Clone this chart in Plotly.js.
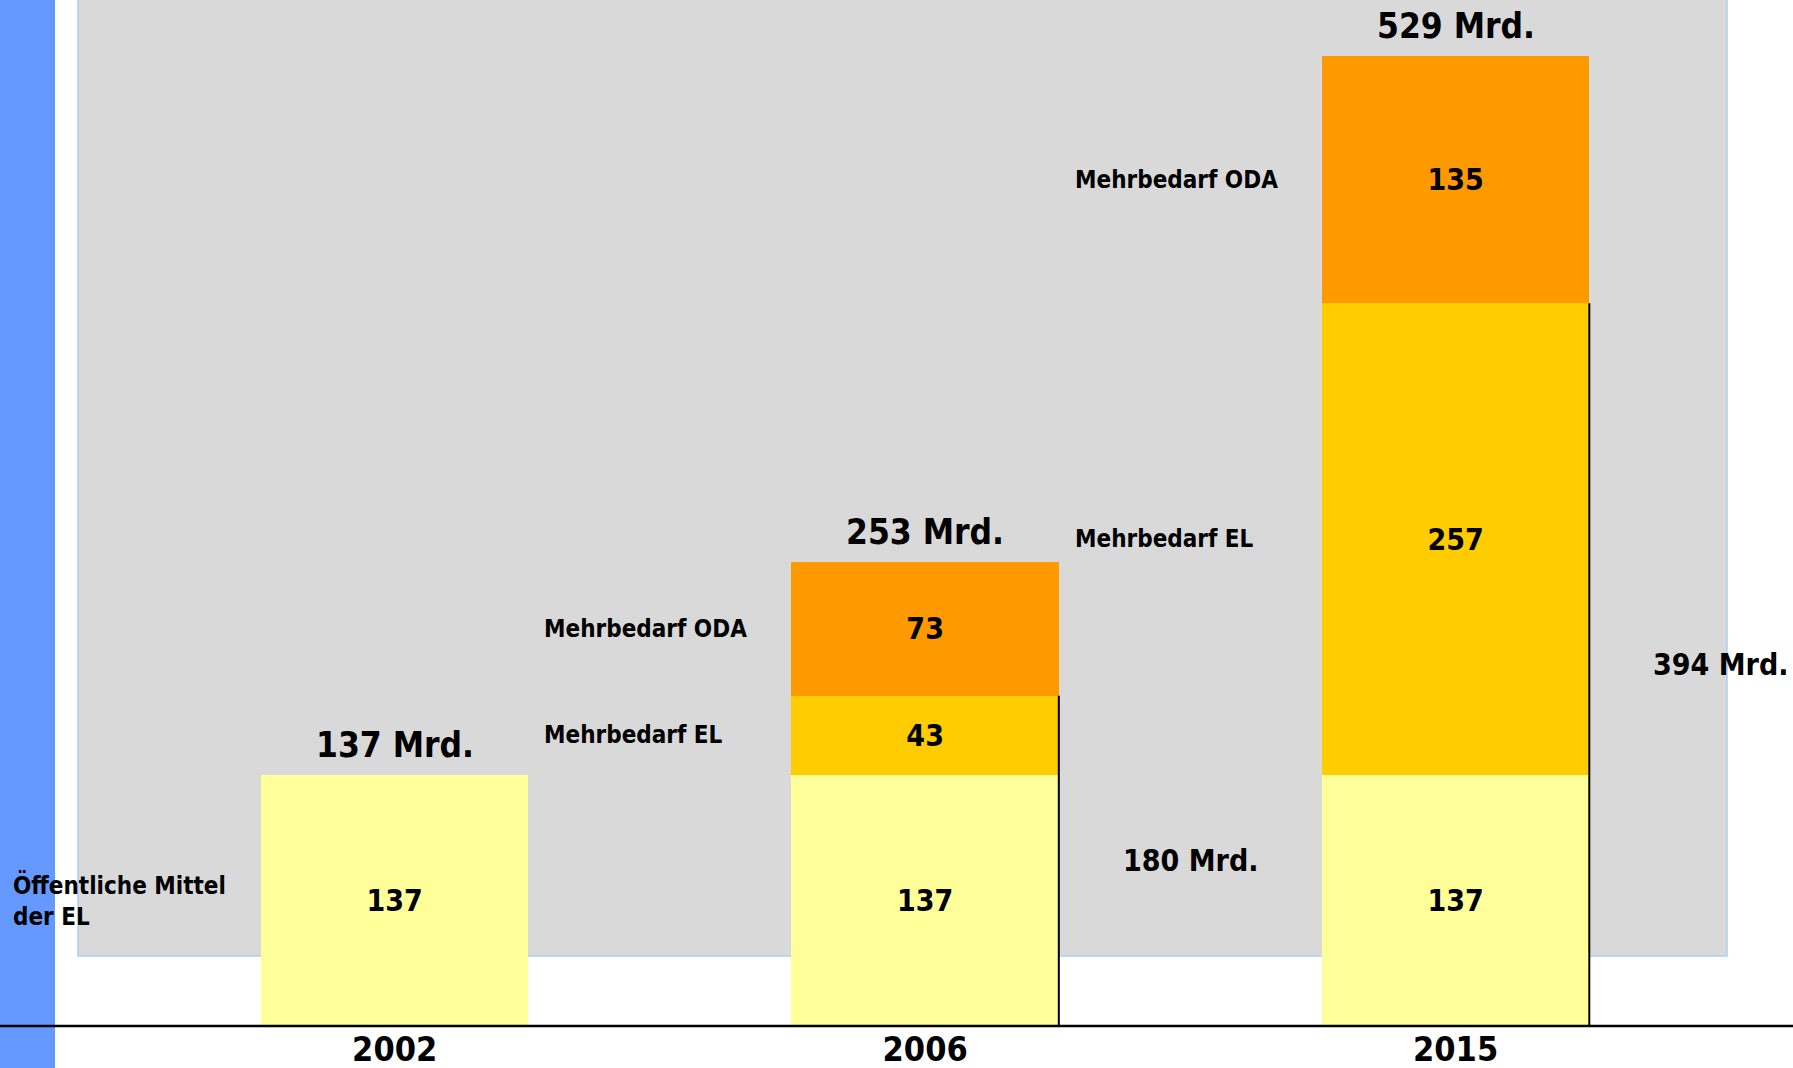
<!DOCTYPE html>
<html>
<head>
<meta charset="utf-8">
<script src="https://cdn.plot.ly/plotly-3.0.1.min.js"></script>
<style>html,body{margin:0;padding:0;background:#fff;}#chart{width:1793px;height:1068px;}</style>
</head>
<body>
<div id="chart"></div>
<script>
// ---- data ----
var years = ['2002', '2006', '2015'];
var oeffentlicheMittel = [137, 137, 137];
var mehrbedarfEL = [null, 43, 257];
var mehrbedarfODA = [null, 73, 135];
var seriesNames = ['Öffentliche Mittel der EL', 'Mehrbedarf EL', 'Mehrbedarf ODA'];
var totals = [137, 253, 529];
var elTotals = [null, 180, 394];

var FONT = 'DejaVu Sans Condensed, DejaVu Sans, sans-serif';
var BW = 0.504;

function barTrace(vals, name, color) {
  return {
    type: 'bar', x: years, y: vals, name: name,
    marker: {color: color, line: {width: 0}},
    width: BW,
    texttemplate: '%{y}', textposition: 'inside', insidetextanchor: 'middle',
    textangle: 0, constraintext: 'none',
    textfont: {family: FONT, size: 30, color: '#000', weight: 'bold'},
    hoverinfo: 'x+y+name'
  };
}
var traces = [
  barTrace(oeffentlicheMittel, seriesNames[0], '#FFFF99'),
  barTrace(mehrbedarfEL, seriesNames[1], '#FFCC00'),
  barTrace(mehrbedarfODA, seriesNames[2], '#FF9900')
];

var shapes = [
  // blue strip left
  {type: 'rect', xref: 'paper', yref: 'paper', x0: 0, x1: 55/1793, y0: -42/1026, y1: 1.0, fillcolor: '#6699FF', line: {width: 0}, layer: 'below'},
  // grey panel
  {type: 'rect', xref: 'paper', yref: 'paper', x0: 78/1793, x1: 1727/1793, y0: 70/1026, y1: 1.02, fillcolor: '#D9D9D9', line: {color: '#A9D1F5', width: 1.5}, layer: 'below'},
  // baseline
  {type: 'line', xref: 'paper', yref: 'paper', x0: 0, x1: 1, y0: 0, y1: 0, line: {color: '#000', width: 2.5}, layer: 'above'}
];
var annotations = [];
years.forEach(function (yr, i) {
  // total label above each bar
  annotations.push({x: i, y: totals[i], xref: 'x', yref: 'y', text: totals[i] + ' Mrd.', showarrow: false,
    yanchor: 'bottom', yshift: 8, font: {family: FONT, size: 35, color: '#000', weight: 'bold'}});
  if (elTotals[i] !== null) {
    // bracket line on the right side of the EL part
    shapes.push({type: 'line', xref: 'x', yref: 'y', x0: i + BW/2, x1: i + BW/2, y0: 0, y1: elTotals[i], line: {color: '#000', width: 2}, layer: 'above'});
    // EL sum label next to it
    annotations.push({x: i + 0.5, y: elTotals[i] / 2, xref: 'x', yref: 'y', text: elTotals[i] + ' Mrd.', showarrow: false,
      xanchor: 'center', font: {family: FONT, size: 30, color: '#000', weight: 'bold'}});
    // series labels left of the bar
    annotations.push({x: i - 0.722, y: oeffentlicheMittel[i] + mehrbedarfEL[i] / 2, xref: 'x', yref: 'y', text: 'Mehrbedarf EL', showarrow: false,
      xanchor: 'left', font: {family: FONT, size: 24, color: '#000', weight: 'bold'}});
    annotations.push({x: i - 0.722, y: oeffentlicheMittel[i] + mehrbedarfEL[i] + mehrbedarfODA[i] / 2, xref: 'x', yref: 'y', text: 'Mehrbedarf ODA', showarrow: false,
      xanchor: 'left', font: {family: FONT, size: 24, color: '#000', weight: 'bold'}});
  }
});
annotations.push({x: 11/1793, y: oeffentlicheMittel[0] / 2, xref: 'paper', yref: 'y', text: 'Öffentliche Mittel<br>der EL', showarrow: false,
  xanchor: 'left', align: 'left', font: {family: FONT, size: 24, color: '#000', weight: 'bold'}});

var layout = {
  width: 1793, height: 1068,
  margin: {l: 0, r: 0, t: 0, b: 42, pad: 0},
  paper_bgcolor: '#FFFFFF', plot_bgcolor: 'rgba(0,0,0,0)',
  barmode: 'stack', showlegend: false,
  xaxis: {type: 'category', range: [-0.744, 2.636], showgrid: false, zeroline: false, showline: false, ticks: '',
    tickfont: {family: FONT, size: 34, color: '#000', weight: 'bold'}, ticklabelstandoff: 0, fixedrange: true},
  yaxis: {range: [0, 559.4], visible: false, showgrid: false, zeroline: false, fixedrange: true},
  shapes: shapes, annotations: annotations,
  font: {family: FONT, color: '#000'}
};
Plotly.newPlot('chart', traces, layout, {displayModeBar: false, staticPlot: true});
</script>
</body>
</html>
